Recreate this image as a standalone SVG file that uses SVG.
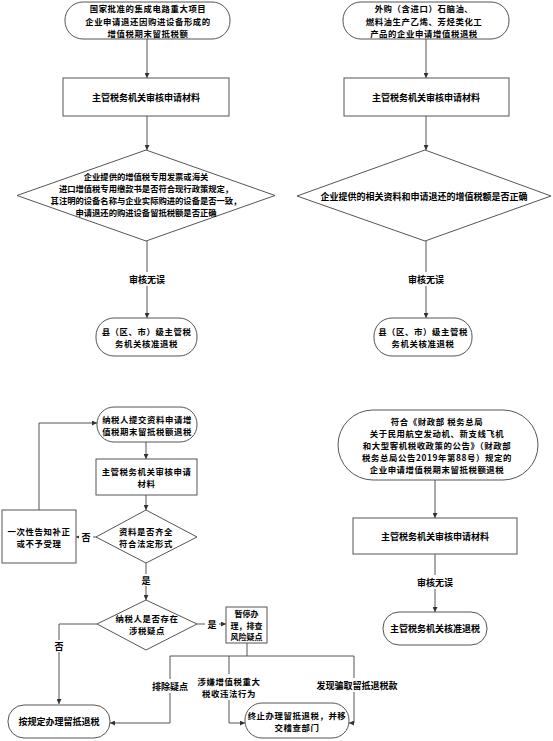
<svg xmlns="http://www.w3.org/2000/svg" width="553" height="741" viewBox="0 0 553 741">
<style>
.n{fill:#fff;stroke:#555;stroke-width:1}
.c{fill:none;stroke:#555;stroke-width:1}
text{font-family:"Noto Sans CJK SC","Liberation Sans",sans-serif;font-weight:700;font-size:9px;fill:#000;text-anchor:middle;dominant-baseline:central}
.m{font-size:8.4px;letter-spacing:0.6px}
.s{font-size:8.3px}
.bg{fill:#fff;stroke:none}
</style>
<defs>
<marker id="a" viewBox="0 0 10 10" refX="10" refY="5" markerWidth="5" markerHeight="5" orient="auto" markerUnits="userSpaceOnUse"><path d="M0,0L10,5L0,10z" fill="#333"/></marker>
</defs>
<rect width="553" height="741" fill="#fff"/>
<g id="connectors">
<path class="c" d="M147,39V78" marker-end="url(#a)"/>
<path class="c" d="M147,116V150" marker-end="url(#a)"/>
<path class="c" d="M147,241V318" marker-end="url(#a)"/>
<path class="c" d="M426,39V78" marker-end="url(#a)"/>
<path class="c" d="M426,116V150" marker-end="url(#a)"/>
<path class="c" d="M426,241V318" marker-end="url(#a)"/>
<path class="c" d="M146,442V459" marker-end="url(#a)"/>
<path class="c" d="M146,495V510" marker-end="url(#a)"/>
<path class="c" d="M96,537H76" marker-end="url(#a)"/>
<path class="c" d="M39,510V423H97" marker-end="url(#a)"/>
<path class="c" d="M146,563V600" marker-end="url(#a)"/>
<path class="c" d="M97,624H59V704" marker-end="url(#a)"/>
<path class="c" d="M197,624H226" marker-end="url(#a)"/>
<path class="c" d="M247,642V656M170,656H354"/>
<path class="c" d="M170,656V723H110" marker-end="url(#a)"/>
<path class="c" d="M229,656V723H245" marker-end="url(#a)"/>
<path class="c" d="M354,656V723H349" marker-end="url(#a)"/>
<path class="c" d="M435,480V518" marker-end="url(#a)"/>
<path class="c" d="M435,554V612" marker-end="url(#a)"/>
<rect class="bg" x="125" y="272" width="44" height="14"/><text x="147" y="279">审核无误</text>
<rect class="bg" x="404" y="272" width="44" height="14"/><text x="426" y="279">审核无误</text>
<rect class="bg" x="79" y="531" width="14" height="12"/><text x="86" y="537">否</text>
<rect class="bg" x="139" y="574" width="14" height="12"/><text x="146" y="580">是</text>
<rect class="bg" x="52" y="640" width="14" height="12"/><text x="59" y="646">否</text>
<rect class="bg" x="205" y="618" width="14" height="12"/><text x="212" y="624">是</text>
<rect class="bg" x="150" y="679" width="40" height="14"/><text x="170" y="686">排除疑点</text>
<rect class="bg" x="196" y="674" width="66" height="26"/><text class="m" x="229" y="680.5">涉嫌增值税重大<tspan x="229" dy="12.2">税收违法行为</tspan></text>
<rect class="bg" x="312" y="678" width="90" height="14"/><text x="357" y="685">发现骗取留抵退税款</text>
<rect class="bg" x="413" y="575" width="44" height="14"/><text x="435" y="582">审核无误</text>
</g>
<g id="n1"><rect class="n" x="65" y="2" width="165" height="37" rx="18"/>
<text class="m" x="148" y="8.3">国家批准的集成电路重大项目<tspan x="148" dy="12.2">企业申请退还因购进设备形成的</tspan><tspan x="148" dy="12.2">增值税期末留抵税额</tspan></text></g>
<g id="n2"><rect class="n" x="63" y="78" width="166" height="38"/><text x="146" y="97">主管税务机关审核申请材料</text></g>
<g id="n3"><polygon class="n" points="146,150 275,195.5 146,241 17,195.5"/>
<text class="s" x="146" y="175.5">企业提供的增值税专用发票或海关<tspan x="146" dy="12.2">进口增值税专用缴款书是否符合现行政策规定，</tspan><tspan x="146" dy="12.2">其注明的设备名称与企业实际购进的设备是否一致，</tspan><tspan x="146" dy="12.2">申请退还的购进设备留抵税额是否正确</tspan></text></g>
<g id="n4"><rect class="n" x="96" y="318" width="101" height="38" rx="18"/><text class="m" x="146.5" y="331">县（区、市）级主管税<tspan x="146.5" dy="12.2">务机关核准退税</tspan></text></g>
<g id="n5"><rect class="n" x="343" y="2" width="166" height="37" rx="18"/>
<text class="m" x="424" y="8.3">外购（含进口）石脑油、<tspan x="424" dy="12.2">燃料油生产乙烯、芳烃类化工</tspan><tspan x="424" dy="12.2">产品的企业申请增值税退税</tspan></text></g>
<g id="n6"><rect class="n" x="344" y="78" width="165" height="38"/><text x="426" y="97">主管税务机关审核申请材料</text></g>
<g id="n7"><polygon class="n" points="425,150 551,196 425,241 297,196"/><text x="424" y="196">企业提供的相关资料和申请退还的增值税额是否正确</text></g>
<g id="n8"><rect class="n" x="374" y="318" width="98" height="38" rx="18"/><text class="m" x="423" y="331">县（区、市）级主管税<tspan x="423" dy="12.2">务机关核准退税</tspan></text></g>
<g id="n9"><rect class="n" x="97" y="407" width="100" height="35" rx="17"/><text class="m" x="147" y="418.5">纳税人提交资料申请增<tspan x="147" dy="12.2">值税期末留抵税额退税</tspan></text></g>
<g id="n10"><rect class="n" x="96" y="459" width="101" height="36"/><text class="m" x="146.5" y="471">主管税务机关审核申请<tspan x="146.5" dy="12.2">材料</tspan></text></g>
<g id="n11"><polygon class="n" points="146,510 197,537 146,563 96,537"/><text class="m" x="146" y="531">资料是否齐全<tspan x="146" dy="12.2">符合法定形式</tspan></text></g>
<g id="n12"><rect class="n" x="2" y="510" width="74" height="53"/><text class="m" x="39" y="530.5">一次性告知补正<tspan x="39" dy="12.2">或不予受理</tspan></text></g>
<g id="n13"><polygon class="n" points="146,600 197,624 146,650 97,624"/><text class="m" x="147" y="618">纳税人是否存在<tspan x="147" dy="12.2">涉税疑点</tspan></text></g>
<g id="n14"><rect class="n" x="226" y="607" width="41" height="36"/><text x="246.5" y="613" style="font-size:8px">暂停办<tspan x="246.5" dy="11.7">理，排查</tspan><tspan x="246.5" dy="11.7">风险疑点</tspan></text></g>
<g id="n15"><rect class="n" x="8" y="705" width="102" height="33" rx="16"/><text x="59" y="721">按规定办理留抵退税</text></g>
<g id="n16"><rect class="n" x="245" y="703" width="104" height="35" rx="17"/><text class="m" x="297" y="715">终止办理留抵退税，并移<tspan x="297" dy="12.2">交稽查部门</tspan></text></g>
<g id="n17"><rect class="n" x="338" y="410" width="200" height="70" rx="35"/>
<text class="m" x="437" y="420.5">符合《财政部 税务总局<tspan x="437" dy="12.2">关于民用航空发动机、新支线飞机</tspan><tspan x="437" dy="12.2">和大型客机税收政策的公告》（财政部</tspan><tspan x="437" dy="12.2">税务总局公告2019年第88号）规定的</tspan><tspan x="437" dy="12.2">企业申请增值税期末留抵税额退税</tspan></text></g>
<g id="n18"><rect class="n" x="353" y="518" width="164" height="36"/><text x="435" y="536">主管税务机关审核申请材料</text></g>
<g id="n19"><rect class="n" x="383" y="612" width="104" height="33" rx="16"/><text x="435" y="628">主管税务机关核准退税</text></g>
</svg>
